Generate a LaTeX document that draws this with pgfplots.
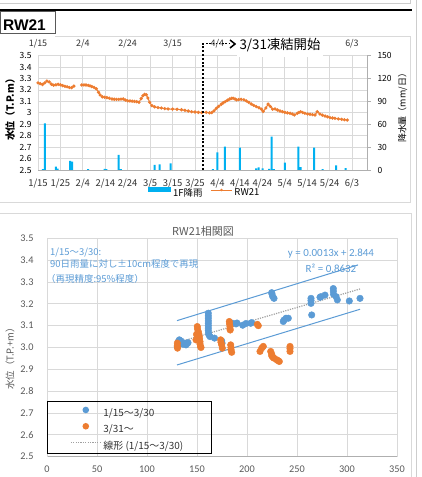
\documentclass[border=0pt]{standalone}
\usepackage{pgfplots}
\pgfplotsset{compat=1.18}
\usepackage{fontspec}
\setmainfont{Carlito}
\newfontfamily\cjk{Noto Sans CJK JP}
\newfontfamily\arialf{Liberation Sans}
\definecolor{blueS}{RGB}{91,155,213}
\definecolor{orangeS}{RGB}{237,125,49}
\definecolor{rainblue}{RGB}{0,176,240}
\definecolor{gridg}{RGB}{217,217,217}
\definecolor{axg}{RGB}{175,175,175}
\definecolor{txtg}{RGB}{89,89,89}
\definecolor{dk}{RGB}{50,50,50}
\definecolor{trendg}{RGB}{160,160,160}
\definecolor{frameg}{RGB}{205,205,205}
\begin{document}
\begin{tikzpicture}[x=1bp,y=1bp]
\useasboundingbox (0,0) rectangle (421,477);
% page decorations
\draw[frameg, line width=0.8bp] (0,473.7) -- (410,473.7) -- (410,477);
\draw[black, line width=2bp] (0,467) -- (412,467);
\draw[frameg, line width=0.8bp] (416.5,0) -- (416.5,477);
\draw[txtg, line width=0.9bp] (0.5,443.7) rectangle (55,465.3);
\node[anchor=base west, inner sep=0pt, font=\arialf\bfseries\fontsize{15.5}{16}\selectfont] at (3,446) {RW21};
\draw[gridg, line width=0.8bp] (55,440.3) -- (410,440.3) -- (410,275) -- (0,275);
\draw[gridg, line width=0.8bp] (0,263.5) -- (411.5,263.5) -- (411.5,0);

% ===== top chart: water level (left axis) =====
\begin{axis}[
  at={(38bp,307bp)}, anchor=south west, scale only axis,
  width=329bp, height=114.3bp,
  xmin=0, xmax=146.7, ymin=2.5, ymax=3.5,
  axis x line*=bottom, axis y line*=left,
  xtick={0,10,20,30,40,50,60,70,80,90,100,110,120,130,140},
  xticklabels={1/15,1/25,2/4,2/14,2/24,3/5,3/15,3/25,4/4,4/14,4/24,5/4,5/14,5/24,6/3},
  ytick={2.5,2.6,2.7,2.8,2.9,3,3.1,3.2,3.3,3.4,3.5},
  grid=major, grid style={gridg, line width=0.8bp},
  x axis line style={axg, line width=0.8bp},
  y axis line style={gridg, line width=0.8bp},
  major tick length=0pt,
  xticklabel style={font=\cjk\fontsize{9.5}{11}\selectfont, text=dk, yshift=-5bp},
  yticklabel style={font=\cjk\fontsize{8.5}{10}\selectfont, text=black, xshift=-3bp},
  /pgf/number format/assume math mode=true,
  clip=false, unbounded coords=jump,
]
\addplot[orangeS, line width=1bp, mark=*, mark size=1.1bp, mark options={fill=orangeS, draw=orangeS}] coordinates {
(0,3.262) (1,3.255) (2,3.248) (3,3.262) (4,3.278) (5,3.27) (6,3.25) (7,3.242) (8,3.245) (9,3.25)
(10,3.245) (11,3.238) (12,3.232) (13,3.228) (14,3.222) (15,3.22) (16,3.234) (17.5,nan)
(19.5,3.244) (20.5,3.244) (21.4,3.244) (21.9,nan)
(22.4,3.24) (23.2,3.236) (24,3.23) (25,3.222) (26,3.21) (27,3.18) (27.7,3.156) (28.7,3.14) (29.7,3.136)
(30.7,3.133) (31.8,3.128) (33,3.121) (34,3.119) (35,3.118) (36,3.118) (37,3.12) (38,3.121) (39,3.112)
(40,3.105) (41,3.104) (42,3.102) (43,3.1) (44,3.098) (45,3.092) (46,3.125) (46.8,3.15) (47.5,3.162)
(48.3,3.158) (49,3.13) (49.8,3.092) (50.8,3.063) (52,3.052) (53.5,3.046) (55,3.042) (56.5,3.037)
(58,3.034) (60,3.033) (62,3.031) (64,3.027) (65.5,3.022) (67,3.016) (68.5,3.01) (70,3.007) (71.5,3.004)
(73,3.002) (75,3.004) (76.5,3.0) (77.5,3.002) (78.5,3.018) (79.5,3.04) (80.5,3.056) (81.7,3.075)
(82.6,3.088) (83.5,3.098) (84.5,3.11) (85.5,3.121) (86.3,3.127) (87,3.128) (87.8,3.122) (88.5,3.113)
(89.5,3.116) (90.6,3.118) (91.8,3.114) (92.9,3.104) (94,3.092) (95.1,3.077) (96.2,3.065) (97.3,3.055)
(98.5,3.045) (99.6,3.032) (100.4,3.012) (101.6,3.042) (102.6,3.076) (103.6,3.056) (104.6,3.032)
(105.7,3.034) (106.8,3.025) (107.9,3.016) (109,3.01) (110.1,3.004) (111.2,3.0) (112.4,2.996)
(113.4,2.99) (114.3,2.981) (115.6,2.996) (116.4,3.004) (117.1,3.01) (118,3.003) (119,2.996)
(120.2,2.99) (121.3,2.987) (122.4,2.984) (123.5,2.981) (124.5,3.01) (125.7,2.99) (126.8,2.98)
(128,2.972) (129.1,2.965) (130.2,2.958) (131.3,2.955) (132.4,2.952) (133.9,2.947) (135.4,2.943)
(136.6,2.94) (137.9,2.937)
};
\end{axis}

% ===== top chart: rainfall (right axis) =====
\begin{axis}[
  at={(38bp,307bp)}, anchor=south west, scale only axis,
  width=329bp, height=114.3bp,
  xmin=0, xmax=146.7, ymin=0, ymax=150,
  axis x line*=top, axis y line*=right,
  xtick={0,20,40,60,80,140},
  xticklabels={1/15,2/4,2/24,3/15,4/4,6/3},
  ytick={0,30,60,90,120,150},
  x axis line style={gridg, line width=0.8bp},
  y axis line style={axg, line width=0.8bp},
  major tick length=4bp, tick align=outside,
  xtick style={draw=none}, ytick style={axg, line width=0.8bp},
  xticklabel style={font=\cjk\fontsize{9}{11}\selectfont, text=dk, yshift=0bp},
  yticklabel style={font=\cjk\fontsize{8.5}{10}\selectfont, text=black, xshift=3bp},
  /pgf/number format/assume math mode=true,
  legend columns=2,
  legend style={at={(0.334,-0.201)}, anchor=west, draw=none, fill=none, inner sep=0pt,
    font=\cjk\fontsize{9.5}{11}\selectfont, text=black},
]
\addplot[ybar, bar width=2bp, bar shift=0pt, fill=rainblue, draw=none, forget plot] coordinates {
(2.2,1) (3.1,61.3) (8,4.4) (8.8,1.7) (14.3,11.8) (15.2,11) (22.3,1) (29.7,1.3) (30.5,1)
(36,19.7) (37,1) (52,6.6) (54.2,7.4) (59.1,8.7) (78,1) (80,23.2) (83.3,30.6) (90,29.3)
(97.3,2.2) (98.4,3.5) (100.2,2.2) (103.1,1.3) (104.2,43.7) (105.2,1) (110.1,9.6)
(116.1,30.6) (117.1,3.9) (123.1,29.3) (126.9,1) (132.9,6.1) (137.2,2.6)
};
\addlegendimage{legend image code/.code={\fill[rainblue, draw=none] (0bp,0.5bp) rectangle (23bp,5.5bp);}}
\addlegendentry{1F降雨}
\addlegendimage{legend image code/.code={\path[draw=none, fill=none] (-6.5bp,3bp) -- (0bp,3bp); \draw[orangeS, line width=0.9bp] (0bp,3bp) -- (21bp,3bp); \fill[orangeS, draw=none] (10.5bp,3bp) circle (1.4bp);}}
\addlegendentry{RW21}
\end{axis}

% axis titles of top chart
\node[rotate=90, font=\cjk\bfseries\fontsize{10}{12}\selectfont] at (10,369.5) {水位（T.P.m）};
\node[rotate=90, font=\cjk\fontsize{9}{11}\selectfont] at (402.5,371) {降水量（mm/日）};

% freeze annotation
\draw[black, line width=2.2bp, dash pattern=on 2bp off 1.8bp] (203,307) -- (203,434);
\draw[black, line width=1.4bp, dash pattern=on 1.4bp off 1.8bp] (203,433.5) -- (229,433.5);
\draw[black, line width=1.5bp] (230,437) -- (235,433) -- (230,429);
\fill[white] (237,420) rectangle (323,439.5);
\node[font=\cjk\fontsize{13.4}{14}\selectfont, inner sep=0pt] at (280,431.5) {3/31凍結開始};

% ===== bottom chart: correlation =====
\begin{axis}[
  at={(47bp,20.3bp)}, anchor=south west, scale only axis,
  width=350bp, height=218.4bp,
  xmin=0, xmax=350, ymin=2.5, ymax=3.5,
  axis x line*=bottom, axis y line*=left,
  xtick={0,50,100,150,200,250,300,350},
  ytick={2.5,2.6,2.7,2.8,2.9,3,3.1,3.2,3.3,3.4,3.5},
  grid=major, grid style={gridg, line width=0.8bp},
  x axis line style={axg, line width=0.8bp},
  y axis line style={gridg, line width=0.8bp},
  major tick length=0pt,
  ticklabel style={font=\fontsize{10.3}{12}\selectfont, text=txtg},
  xticklabel style={yshift=-6bp},
  yticklabel style={xshift=-10bp, /pgf/number format/fixed, /pgf/number format/fixed zerofill, /pgf/number format/precision=1},
  /pgf/number format/assume math mode=true,
  legend cell align=left,
  legend style={at={(0.0657,0.230)}, anchor=north west, draw=none, fill=none, inner sep=0pt,
    row sep=2.8bp, font=\cjk\fontsize{10}{12}\selectfont, text=dk},
]
\addplot[only marks, mark=*, mark size=3.3bp, mark options={draw=blueS, fill=blueS}, forget plot] coordinates {
(130.3,3.004) (131.3,3.027) (132.3,3.035) (133,3.02) (134,3.03) (136,3.015) (138,3.02) (139,3.012)
(140,3.018) (141,3.022) (161.3,3.157) (161.3,3.145) (161.3,3.134) (161.3,3.122) (161.3,3.111)
(161.3,3.1) (161.3,3.089) (161.3,3.078) (161.5,3.066) (162,3.057) (163,3.05) (167.5,3.043)
(174.7,3.03) (175,3.02) (185.7,3.111) (189,3.108) (190,3.112) (195.7,3.102) (199,3.11)
(203.7,3.111) (204.7,3.114) (224.7,3.251) (225,3.245) (225.7,3.233) (227,3.225) (236.3,3.119)
(237,3.126) (239,3.134) (241.3,3.134) (264,3.225) (264,3.215) (264,3.202) (264.7,3.149)
(273,3.23) (274,3.233) (278,3.24) (286.3,3.27) (286.3,3.258) (286.5,3.244) (289,3.233)
(290.3,3.218) (302.3,3.213) (313,3.225)
};
\addplot[only marks, mark=*, mark size=3.3bp, mark options={draw=orangeS, fill=orangeS}, forget plot] coordinates {
(130.3,3.02) (130.3,3.008) (130.5,2.997) (149,3.035) (149.5,3.06) (150.3,3.096) (150.5,3.085)
(151.3,3.073) (151.8,3.062) (152.3,3.05) (152.5,3.04) (153,3.027) (153,3.016) (153.5,3.005)
(154,3.0) (173.7,3.035) (174,3.024) (174.7,3.012) (175.3,2.997) (182.3,3.119) (182.5,3.108)
(183,3.096) (183,3.085) (183.2,3.08) (183.7,3.012) (184,3.0) (184,2.99) (184.7,2.978)
(210.3,3.106) (211.3,3.1) (213,2.982) (214.7,2.997) (216.3,3.005) (223.7,2.982) (224.7,2.97)
(224.7,2.962) (226,2.955) (227,2.951) (229.7,2.944) (231,2.94) (232.3,2.936) (243,3.005)
(243,2.995) (243,2.982)
};
\addplot[trendg, line width=1.2bp, dash pattern=on 1.2bp off 1.2bp, forget plot] coordinates {(130,3.022) (313,3.268)};
\addplot[blueS, line width=1bp, forget plot] coordinates {(130,3.123) (311,3.378)};
\addplot[blueS, line width=1bp, forget plot] coordinates {(130,2.92) (313,3.175)};
\addlegendimage{legend image code/.code={\path[draw=none, fill=none] (0bp,3.5bp) -- (30bp,3.5bp); \fill[blueS, draw=none] (15bp,3.5bp) circle (3.3bp);}}
\addlegendentry{1/15〜3/30}
\addlegendimage{legend image code/.code={\path[draw=none, fill=none] (0bp,3.5bp) -- (30bp,3.5bp); \fill[orangeS, draw=none] (15bp,3.5bp) circle (3.3bp);}}
\addlegendentry{3/31〜}
\addlegendimage{legend image code/.code={\draw[trendg, line width=1.2bp, dash pattern=on 1.2bp off 1.2bp] (0bp,3.5bp) -- (30bp,3.5bp);}}
\addlegendentry{線形 (1/15〜3/30)}
\end{axis}

% bottom chart texts
\node[font=\cjk\fontsize{11}{13}\selectfont, text=txtg] at (203,246) {RW21相関図};
\node[rotate=90, font=\cjk\fontsize{9.5}{11}\selectfont, text=txtg] at (10,120.5) {水位（T.P.+m）};
\node[anchor=west, inner sep=0pt, font=\cjk\fontsize{9.5}{11}\selectfont, text=blueS] at (50,224.5) {1/15〜3/30:};
\node[anchor=west, inner sep=0pt, font=\cjk\fontsize{9.5}{11}\selectfont, text=blueS] at (50,213) {90日雨量に対し±10cm程度で再現};
\node[anchor=west, inner sep=0pt, font=\cjk\fontsize{9.5}{11}\selectfont, text=blueS] at (46,198.5) {（再現精度:95\%程度）};
\node[font=\fontsize{11}{13}\selectfont, text=blueS] at (331,223) {y = 0.0013x + 2.844};
\node[font=\fontsize{11}{13}\selectfont, text=blueS] at (331,209) {R² = 0.8632};
\draw[black, line width=0.9bp] (47,23.7) rectangle (211.7,75.3);
\end{tikzpicture}
\end{document}
